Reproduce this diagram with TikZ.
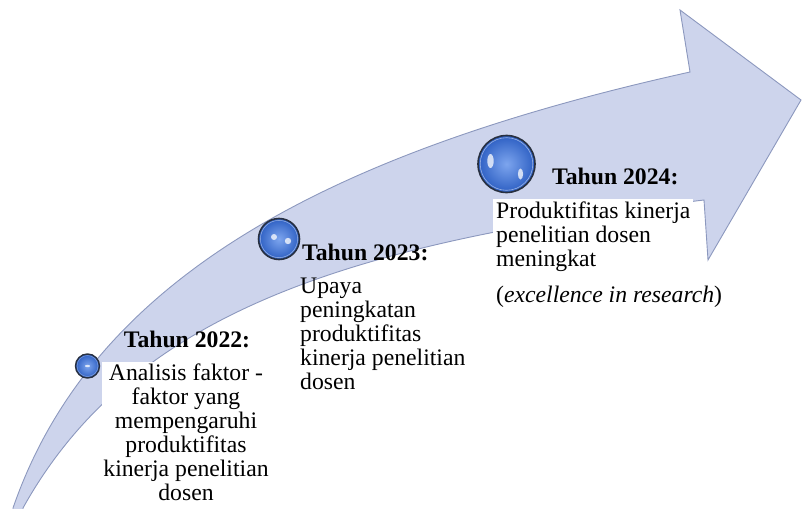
\documentclass[tikz,border=0pt]{standalone}
\usepackage{fontspec}
\setmainfont{Liberation Serif}
\definecolor{bandfill}{RGB}{205,212,236}
\definecolor{bandline}{RGB}{140,152,190}
\definecolor{orbline}{RGB}{40,48,64}
\definecolor{orbin}{RGB}{125,165,238}
\definecolor{orbout}{RGB}{45,95,195}
\newcommand\clines[1]{\vtop{\halign{\hfil##\hfil\cr#1\crcr}}}
\newcommand\llines[1]{\vtop{\halign{##\hfil\cr#1\crcr}}}
\begin{document}
\begin{tikzpicture}[x=1pt,y=-1pt,
  band/.style={fill=bandfill, draw=bandline, line width=0.9pt, line join=miter},
  orb/.style={circle, draw=orbline, line width=1.6pt, inner sep=0pt, minimum size=#1,
    inner color=orbin, outer color=orbout},
  txt/.style={inner sep=0pt, font=\fontsize{23.7}{24}\selectfont},
  hl/.style={fill=white, fill opacity=0.75}]
\useasboundingbox (0,0) rectangle (802,508);
\begin{scope}
\clip (0,0) rectangle (802,508);
\path[band] (13,508) .. controls (90,285) and (315,155) .. (690,72)
  -- (680,10) -- (801,100) -- (708,260) -- (704,200)
  .. controls (355,242) and (133,310) .. (23,508) -- (23,520) -- (13,520) -- cycle;
\end{scope}
% white backed description boxes
\node[txt, anchor=base, fill=white, inner xsep=1pt, inner ysep=2pt] (d22) at (186,380.5)
  {\clines{Analisis faktor -\cr faktor yang\cr mempengaruhi\cr produktifitas\cr kinerja penelitian\cr dosen}};
\node[txt, anchor=base west, fill=white, inner xsep=3pt, inner ysep=2pt] (d24) at (493,218)
  {\llines{Produktifitas kinerja\cr penelitian dosen\cr meningkat}};
\node[txt, anchor=base west] (d24b) at (496,302) {(\textit{excellence in research})};
\node[txt, anchor=base west] (d23) at (300,293.5)
  {\llines{Upaya\cr peningkatan\cr produktifitas\cr kinerja penelitian\cr dosen}};
% titles
\node[txt, anchor=base] (t22) at (187,347) {\textbf{Tahun 2022:}};
\node[txt, anchor=base west] (t23) at (302,260) {\textbf{Tahun 2023:}};
\node[txt, anchor=base west] (t24) at (552,184) {\textbf{Tahun 2024:}};
% orbs
\node[orb=24pt, line width=1.4pt] (c22) at (87.5,366) {};
\node[orb=41pt] (c23) at (279,239) {};
\node[orb=57pt] (c24) at (506.5,164) {};
\draw[white, opacity=0.5, line width=0.6pt] (c24.center) circle (26.3);
\draw[white, opacity=0.5, line width=0.5pt] (c23.center) circle (18.6);
\draw[white, opacity=0.4, line width=0.4pt] (c22.center) circle (10.5);
\fill[hl] (c24.center) ++(-16,-3) ellipse (3.2 and 7);
\fill[hl] (c24.center) ++(14,10) ellipse (2.6 and 5.5);
\fill[hl] (c23.center) ++(-5,-2) circle (3);
\fill[hl] (c23.center) ++(9,2) circle (3.2);
\fill[hl] (c22.center) ++(0,0) ellipse (2.5 and 1.2);
\end{tikzpicture}
\end{document}
